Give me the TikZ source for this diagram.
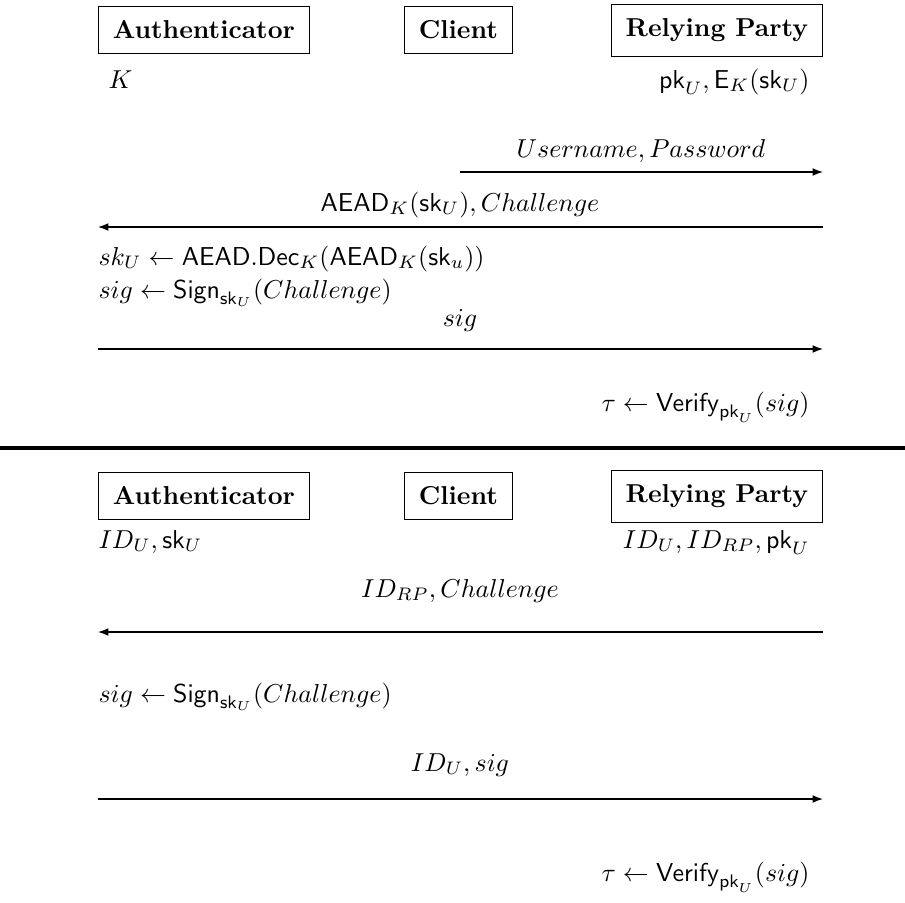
\documentclass[tikz,border=0pt]{standalone}
\usetikzlibrary{arrows.meta}
\begin{document}
\begin{tikzpicture}[x=0.386pt,y=-0.386pt,
  party/.style={draw,line width=0.5pt,inner sep=5.5pt,font=\bfseries},
  lbl/.style={inner sep=0pt},
  msg/.style={line width=0.5pt,-{Latex[length=4pt,width=3pt]}},
  sep/.style={line width=1.2pt}]
\useasboundingbox (0,0) rectangle (905,903);

% ---- first protocol: password plus wrapped key ----
\node[party,anchor=north west] (a1) at (98,6) {Authenticator};
\node[party,anchor=north west] (c1) at (404,6) {Client};
\node[party,anchor=north east] (r1) at (823,4) {Relying Party};

\node[lbl,anchor=base west] (k1) at (108,88) {$K$};
\node[lbl,anchor=base east] (st1) at (810,88) {$\mathsf{pk}_U, \mathsf{E}_K(\mathsf{sk}_U)$};

\coordinate (m1s) at (460,172);
\coordinate (m1e) at (823,172);
\draw[msg] (m1s) -- (m1e);
\node[lbl,anchor=base] (t1) at (641,157) {$Username, Password$};

\coordinate (m2s) at (823,227);
\coordinate (m2e) at (98,227);
\draw[msg] (m2s) -- (m2e);
\node[lbl,anchor=base] (t2) at (460,211) {$\mathsf{AEAD}_K(\mathsf{sk}_U), Challenge$};

\node[lbl,anchor=base west] (dec1) at (98,265) {$sk_U \leftarrow \mathsf{AEAD.Dec}_K(\mathsf{AEAD}_K(\mathsf{sk}_u))$};
\node[lbl,anchor=base west] (sig1) at (98,298) {$sig \leftarrow \mathsf{Sign}_{\mathsf{sk}_U}(Challenge)$};

\coordinate (m3s) at (98,349);
\coordinate (m3e) at (823,349);
\draw[msg] (m3s) -- (m3e);
\node[lbl,anchor=base] (t3) at (460,326) {$sig$};

\node[lbl,anchor=base east] (ver1) at (810,411) {$\tau \leftarrow \mathsf{Verify}_{\mathsf{pk}_U}(sig)$};

% ---- separator ----
\coordinate (sl) at (0,448);
\coordinate (sr) at (905,448);
\draw[sep] (sl) -- (sr);

% ---- second protocol: public-key login ----
\node[party,anchor=north west] (a2) at (98,472) {Authenticator};
\node[party,anchor=north west] (c2) at (404,472) {Client};
\node[party,anchor=north east] (r2) at (823,470) {Relying Party};

\node[lbl,anchor=base west] (st2a) at (98,548) {$ID_U, \mathsf{sk}_U$};
\node[lbl,anchor=base east] (st2r) at (810,548) {$ID_U, ID_{RP}, \mathsf{pk}_U$};

\coordinate (n1s) at (823,632);
\coordinate (n1e) at (98,632);
\draw[msg] (n1s) -- (n1e);
\node[lbl,anchor=base] (u1) at (460,597) {$ID_{RP}, Challenge$};

\node[lbl,anchor=base west] (sig2) at (98,702) {$sig \leftarrow \mathsf{Sign}_{\mathsf{sk}_U}(Challenge)$};

\coordinate (n2s) at (98,799);
\coordinate (n2e) at (823,799);
\draw[msg] (n2s) -- (n2e);
\node[lbl,anchor=base] (u2) at (460,771) {$ID_U, sig$};

\node[lbl,anchor=base east] (ver2) at (810,881) {$\tau \leftarrow \mathsf{Verify}_{\mathsf{pk}_U}(sig)$};
\end{tikzpicture}
\end{document}
